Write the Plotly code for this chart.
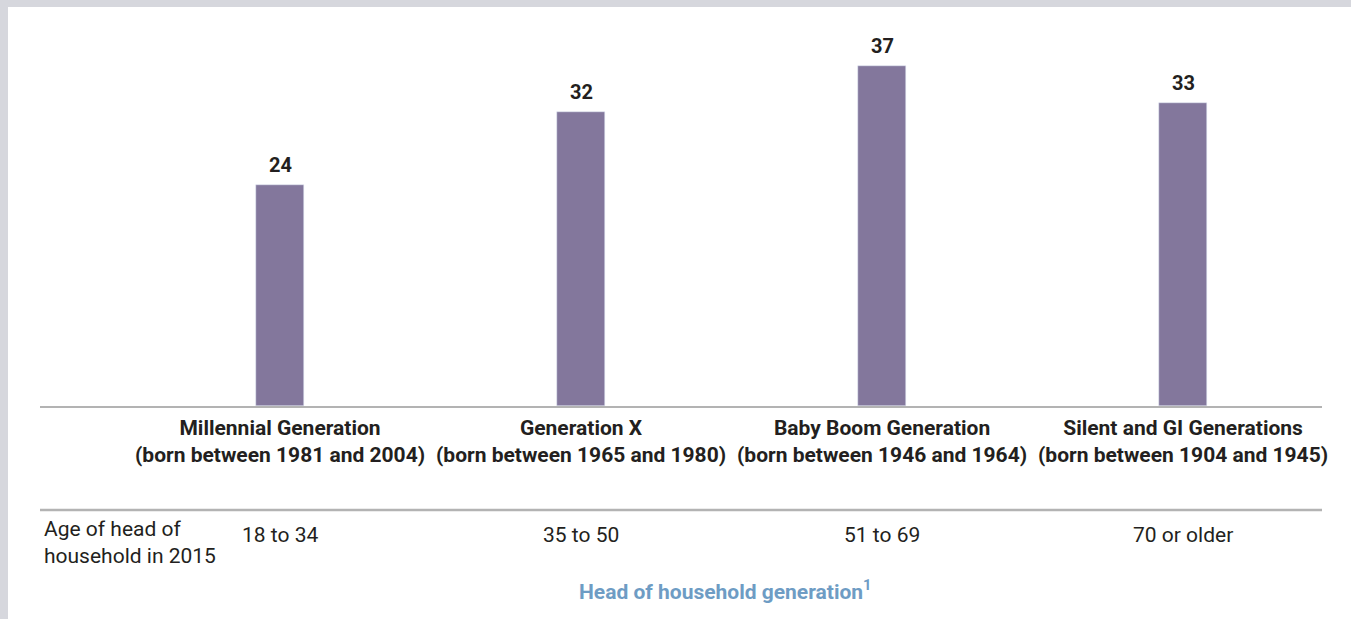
import plotly.graph_objects as go

generations = [
    "Millennial Generation",
    "Generation X",
    "Baby Boom Generation",
    "Silent and GI Generations",
]
born = [
    "(born between 1981 and 2004)",
    "(born between 1965 and 1980)",
    "(born between 1946 and 1964)",
    "(born between 1904 and 1945)",
]
ages = ["18 to 34", "35 to 50", "51 to 69", "70 or older"]
values = [24, 32, 37, 33]

W, H = 1351, 619
L, R, T, B = 40, 29, 20, 213
plot_h = H - T - B
plot_w = W - L - R

FONT = "Roboto"
DARK = "#231f20"
BAR = "#83779c"
LINE = "#b3b3b3"
BORDER = "#d6d7dd"


def py(y_px):
    # pixel row -> paper y
    return (H - B - y_px) / plot_h


def px(x_px):
    return (x_px - L) / plot_w


x = list(range(len(generations)))

fig = go.Figure(
    go.Bar(
        x=x,
        y=values,
        marker_color=BAR,
        width=0.16,
        hoverinfo="skip",
    )
)

annotations = []
for i in x:
    # value label above each bar
    annotations.append(
        dict(
            x=i, y=values[i], xref="x", yref="y",
            text="<b>%d</b>" % values[i], showarrow=False,
            xanchor="center", yanchor="bottom", yshift=6,
            font=dict(family=FONT, size=20, color=DARK),
        )
    )
    annotations.append(
        dict(
            x=i, y=py(442), xref="x", yref="paper",
            text="<b>%s</b><br><b>%s</b>" % (generations[i], born[i]),
            showarrow=False, xanchor="center", yanchor="middle",
            font=dict(family=FONT, size=21, color=DARK),
        )
    )
    annotations.append(
        dict(
            x=i, y=py(535), xref="x", yref="paper",
            text=ages[i], showarrow=False, xanchor="center", yanchor="middle",
            font=dict(family=FONT, size=21, color=DARK),
        )
    )

annotations.append(
    dict(
        x=px(42), y=py(542), xref="paper", yref="paper",
        text="Age of head of<br>household in 2015", showarrow=False,
        xanchor="left", yanchor="middle", align="left",
        font=dict(family=FONT, size=21, color=DARK),
    )
)
annotations.append(
    dict(
        x=px(725), y=py(590), xref="paper", yref="paper",
        text="<b>Head of household generation<sup>1</sup></b>", showarrow=False,
        xanchor="center", yanchor="middle",
        font=dict(family=FONT, size=21, color="#6e9cc4"),
    )
)

shapes = [
    dict(type="line", xref="paper", yref="paper", x0=0, x1=1, y0=py(510), y1=py(510),
         line=dict(color=LINE, width=2.5)),
    dict(type="rect", xref="paper", yref="paper", x0=px(0), x1=px(8), y0=py(0), y1=py(H),
         fillcolor=BORDER, line=dict(width=0)),
    dict(type="rect", xref="paper", yref="paper", x0=px(0), x1=px(W), y0=py(0), y1=py(7),
         fillcolor=BORDER, line=dict(width=0)),
]

fig.update_layout(
    width=W, height=H,
    margin=dict(l=L, r=R, t=T, b=B),
    paper_bgcolor="white", plot_bgcolor="white",
    showlegend=False,
    bargap=0,
    xaxis=dict(range=[-240 / 301, -240 / 301 + plot_w / 301], showticklabels=False,
               showgrid=False, zeroline=False, showline=True, linecolor=LINE,
               linewidth=2, ticks=""),
    yaxis=dict(range=[0, plot_h / 9.196], visible=False),
    annotations=annotations,
    shapes=shapes,
)

# drop the default page margin so the figure sits at the window origin
fig.write_html(
    "out.html",
    config={"displayModeBar": False},
    post_script="document.body.style.margin='0';",
)
